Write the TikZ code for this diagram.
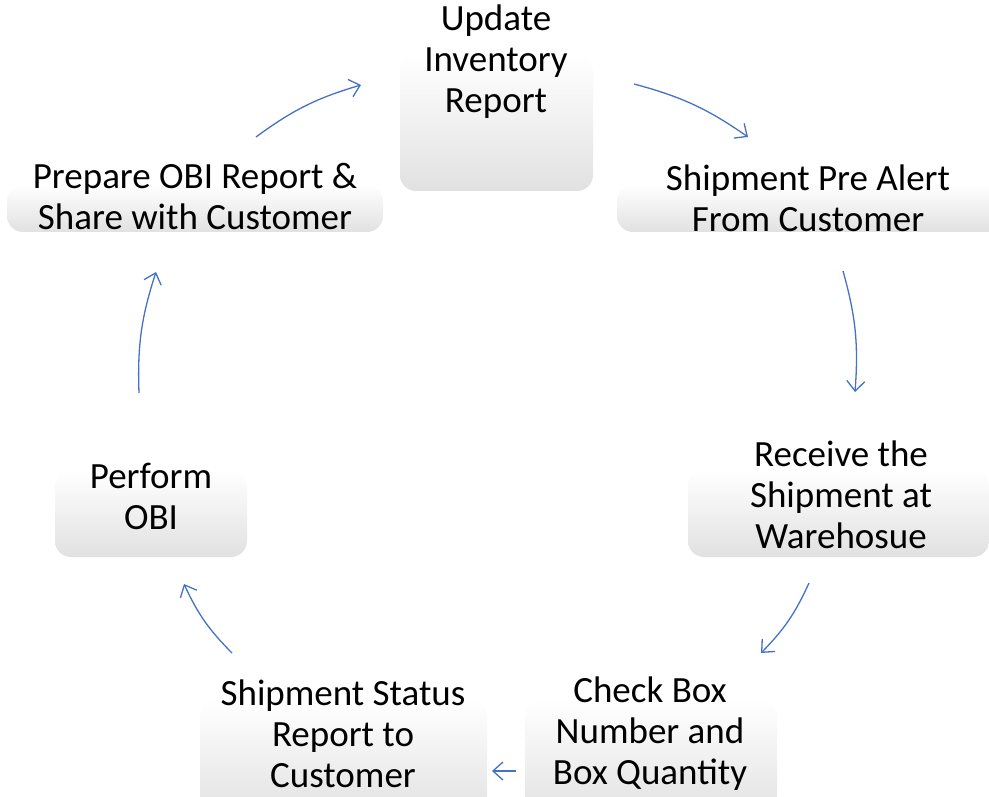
\documentclass[tikz,border=0pt]{standalone}
\usepackage{fontspec}
\setmainfont{Carlito}
\usetikzlibrary{arrows.meta}
\definecolor{boxgray}{HTML}{E1E1E1}
\definecolor{arrowblue}{HTML}{4472C4}
\tikzset{
  panel/.style={rounded corners=16pt, top color=white, bottom color=boxgray, draw=none},
  label/.style={align=center, inner sep=0pt, font=\fontsize{37}{41}\selectfont},
  flow/.style={draw=arrowblue, line width=1.3pt, -{Straight Barb[length=10pt,width=18pt,line width=1.3pt]}}
}
\begin{document}
\begin{tikzpicture}[x=1pt,y=1pt]
\clip (0,0) rectangle (989,-797);
\useasboundingbox (0,0) rectangle (989,-797);
% panels
\path[panel] (400,-55) rectangle (593,-191);
\path[panel] (617,-185) rectangle (1010,-232);
\path[panel] (7,-185) rectangle (383,-232);
\path[panel] (688,-470) rectangle (989,-557);
\path[panel] (55,-470) rectangle (247,-557);
\path[panel] (525,-700) rectangle (777,-820);
\path[panel] (200,-700) rectangle (487,-820);
% texts
\node[label] (t1) at (496,-62) {Update\\Inventory\\Report};
\node[label] (t2) at (808,-198) {Shipment Pre Alert\\From Customer};
\node[label] (t3) at (195,-196) {Prepare OBI Report \&\\Share with Customer};
\node[label] (t4) at (841,-495) {Receive the\\Shipment at\\Warehosue};
\node[label] (t5) at (151,-496) {Perform\\OBI};
\node[label] (t6) at (650,-734) {Check Box\\Number and\\Box Quantity};
\node[label] (t7) at (343,-734) {Shipment Status\\Report to\\Customer};
% arrow ends
\coordinate (a1s) at (256,-137); \coordinate (a1e) at (361,-85);
\coordinate (a2s) at (634,-84);  \coordinate (a2e) at (748,-137);
\coordinate (a3s) at (843,-271); \coordinate (a3e) at (855,-392);
\coordinate (a4s) at (809,-583); \coordinate (a4e) at (761,-653);
\coordinate (a5s) at (516,-771); \coordinate (a5e) at (492,-771);
\coordinate (a6s) at (232,-653); \coordinate (a6e) at (184,-584);
\coordinate (a7s) at (139,-393); \coordinate (a7e) at (156,-272);
\draw[flow] (a1s) to[bend left=10] (a1e);
\draw[flow] (a2s) to[bend left=10] (a2e);
\draw[flow] (a3s) to[bend left=10] (a3e);
\draw[flow] (a4s) to[bend left=10] (a4e);
\draw[flow] (a5s) -- (a5e);
\draw[flow] (a6s) to[bend left=10] (a6e);
\draw[flow] (a7s) to[bend left=10] (a7e);
\end{tikzpicture}
\end{document}
